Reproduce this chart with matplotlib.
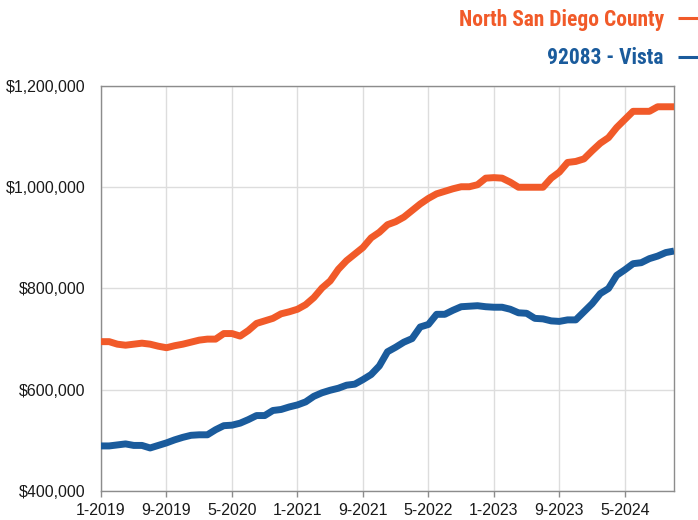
import numpy as np
import matplotlib
matplotlib.use("Agg")
from matplotlib import pyplot as plt
from matplotlib.ticker import StrMethodFormatter

plt.rcParams['font.family'] = ['Liberation Sans', 'DejaVu Sans']

# monthly labels, 1-2019 .. 11-2024
months = [f"{m}-{y}" for y in range(2019, 2025) for m in range(1, 13)][:71]

north_county = [695, 695, 690, 688, 690, 692, 690, 686, 683, 687,
                690, 694, 698, 700, 700, 711, 711, 706, 717, 731,
                736, 741, 750, 754, 759, 768, 782, 801, 815, 838,
                855, 868, 881, 900, 911, 926, 932, 941, 954, 967,
                978, 987, 992, 997, 1001, 1001, 1005, 1018, 1019, 1018,
                1010, 1000, 1000, 1000, 1000, 1018, 1030, 1049, 1051, 1056,
                1072, 1087, 1098, 1118, 1134, 1150, 1150, 1150, 1159, 1159,
                1159]

vista = [489, 489, 491, 493, 490, 490, 485, 490, 495, 501,
         506, 510, 511, 511, 521, 529, 530, 534, 541, 549,
         549, 559, 561, 566, 570, 576, 587, 594, 599, 603,
         609, 611, 620, 630, 647, 675, 684, 694, 701, 724,
         729, 749, 749, 757, 764, 765, 766, 764, 763, 763,
         759, 752, 751, 741, 740, 736, 735, 738, 738, 754,
         770, 790, 800, 826, 837, 849, 851, 859, 864, 871,
         874]

north_county = np.array(north_county) * 1000
vista = np.array(vista) * 1000
x = np.arange(len(months))

orange = '#F15A29'
blue = '#1A5B9C'

fig = plt.figure(figsize=(6.98, 5.20), dpi=100)
ax = fig.add_axes([0.1447, 0.0558, 0.8209, 0.7788])

ax.plot(x, north_county, color=orange, lw=5, solid_capstyle='butt',
        solid_joinstyle='round', label='North San Diego County', zorder=3)
ax.plot(x, vista, color=blue, lw=5, solid_capstyle='butt',
        solid_joinstyle='round', label='92083 - Vista', zorder=3)

ax.set_xlim(0, len(months) - 1)
ax.set_ylim(400000, 1200000)
ax.set_yticks([400000, 600000, 800000, 1000000, 1200000])
ax.yaxis.set_major_formatter(StrMethodFormatter('${x:,.0f}'))
tick_pos = x[::8]
ax.set_xticks(tick_pos)
ax.set_xticklabels([months[i] for i in tick_pos])

ax.grid(True, color='#dddddd', lw=1)
ax.set_axisbelow(True)
for s in ax.spines.values():
    s.set_color('#8c8c8c')
    s.set_linewidth(1)
ax.tick_params(axis='y', length=0, pad=11, labelsize=11.5, labelcolor='#1a1a1a')
ax.tick_params(axis='x', length=4, width=1, color='#8c8c8c', pad=5,
               labelsize=11.5, labelcolor='#1a1a1a')

leg = fig.legend(loc='upper right', bbox_to_anchor=(1.045, 1.02),
                 frameon=False, markerfirst=False, labelcolor='linecolor',
                 handlelength=1.5, handletextpad=0.65, labelspacing=0.75,
                 prop={'family': ['Roboto Condensed', 'Roboto', 'Liberation Sans'],
                       'weight': 'bold', 'size': 15.5})
for h in leg.legend_handles:
    h.set_linewidth(2.2)

fig.savefig('out.png', dpi=100)
